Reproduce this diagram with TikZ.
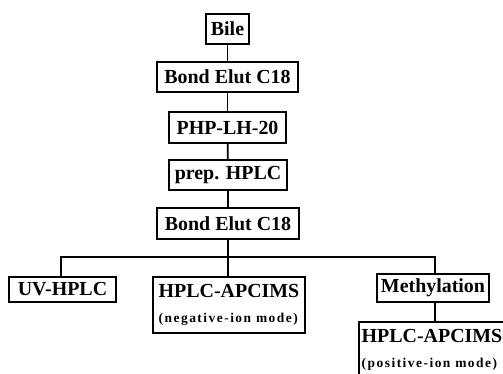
\documentclass[tikz,border=0pt]{standalone}
\usepackage{fontspec}
\setmainfont{Liberation Serif}
\newfontfamily\spacedfont{Liberation Serif}[LetterSpace=11]
\begin{document}
\begin{tikzpicture}[x=1bp,y=-1bp,
  box/.style={draw,line width=1.7bp,inner sep=0pt,anchor=center,
    font=\bfseries\fontsize{20}{23}\selectfont},
  sub/.style={},
  link/.style={line width=1.7bp}]
\useasboundingbox (0,0) rectangle (503,373);
\clip (0,0) rectangle (503,373);
\node[box,minimum width=43bp,minimum height=30bp] (bile) at (227.5,29) {Bile};
\node[box,minimum width=141bp,minimum height=30bp] (be1) at (227.5,77) {Bond Elut C18};
\node[box,minimum width=117bp,minimum height=31bp] (php) at (227.5,127.5) {PHP-LH-20};
\node[box,minimum width=118bp,minimum height=30bp] (prep) at (228,175) {prep. HPLC};
\node[box,minimum width=142bp,minimum height=31bp] (be2) at (228,223.5) {Bond Elut C18};
\node[box,minimum width=107bp,minimum height=25bp] (uv) at (62.5,289.5) {UV-HPLC};
\node[box,minimum width=152bp,minimum height=56bp,align=left] (neg) at (229,305)
  {HPLC-APCIMS\\[2bp]{\spacedfont\bfseries\fontsize{13.5}{15}\selectfont (negative-ion mode)}};
\node[box,minimum width=112bp,minimum height=28bp] (meth) at (433,288) {Methylation};
\node[box,minimum width=146bp,minimum height=56bp,align=left] (pos) at (432,350)
  {HPLC-APCIMS\\[2bp]{\spacedfont\bfseries\fontsize{13.5}{15}\selectfont (positive-ion mode)}};
\coordinate (bl) at (61,257);
\coordinate (br) at (435,257);
\draw[link] (bile) -- (be1);
\draw[link] (be1) -- (php);
\draw[link] (php) -- (prep);
\draw[link] (prep) -- (be2);
\draw[link] (be2.south) -- (be2.south |- neg.north);
\draw[link] (uv.north -| bl) -- (bl) -- (br) -- (meth.north -| br);
\draw[link] (meth.south -| br) -- (pos.north -| br);
\end{tikzpicture}
\end{document}
